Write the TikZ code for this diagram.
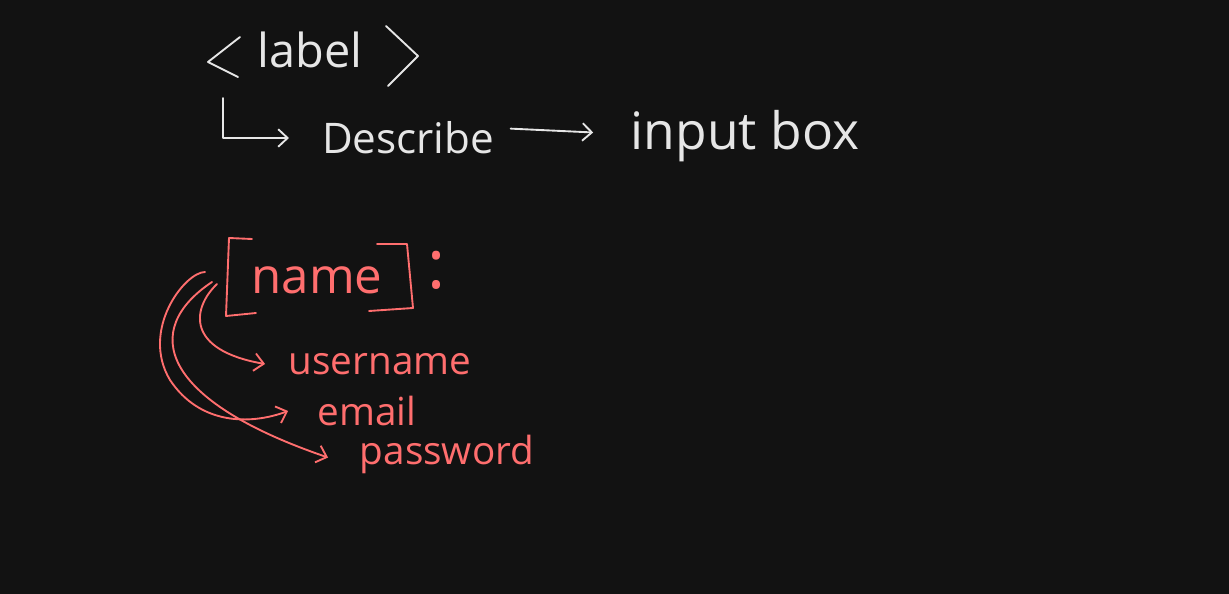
\documentclass[tikz,border=0pt]{standalone}
\usepackage{fontspec}
\setmainfont{Open Sans}
\usetikzlibrary{arrows.meta}
\definecolor{bg}{HTML}{121212}
\definecolor{chalk}{HTML}{E6E6E6}
\definecolor{salmon}{HTML}{FF6E6E}
\begin{document}
\begin{tikzpicture}[x=0.03cm,y=-0.03cm,
  wtext/.style={text=chalk,inner sep=0pt},
  rtext/.style={text=salmon,inner sep=0pt},
  wline/.style={draw=chalk,line width=1.6pt,line cap=round,line join=round},
  rline/.style={draw=salmon,line width=1.6pt,line cap=round,line join=round},
  wtip/.style={-{Straight Barb[length=8pt,width=15pt]}},
  rtip/.style={-{Straight Barb[length=8pt,width=15pt]}}]
\path[fill=bg] (0,0) rectangle (1229,594);
\useasboundingbox (0,0) rectangle (1229,594);

% top (white) part
\node[wtext,font=\fontsize{40}{44}\selectfont] (label) at (310,50) {label};
\draw[wline] (240,37) -- (208,62) -- (238,77);
\draw[wline] (386,26) -- (418,56) -- (388,86);
\node[wtext,font=\fontsize{36}{40}\selectfont] (describe) at (408,138) {Describe};
\node[wtext,font=\fontsize{44}{48}\selectfont] (input) at (745,136) {input box};
\coordinate (elbow) at (223,98);
\draw[wline,wtip] (elbow) |- ([xshift=-28]describe.west);
\draw[wline,wtip] ([xshift=14,yshift=8]describe.east) -- ([xshift=-32,yshift=3]input.west);

% bottom (salmon) part
\node[rtext,font=\fontsize{42}{46}\selectfont] (name) at (317,280) {name};
\draw[rline] (252,239) -- (229,238) -- (226,316) -- (256,313);
\draw[rline] (377,244) -- (407,244) -- (413,308) -- (369,311);
\node[rtext,font=\fontsize{58}{60}\selectfont] (colon) at (437,270) {:};
\node[rtext,font=\fontsize{33}{36}\selectfont] (user) at (380,364) {username};
\node[rtext,font=\fontsize{33}{36}\selectfont] (email) at (367,411) {email};
\node[rtext,font=\fontsize{33}{36}\selectfont] (pass) at (447,454) {password};
\coordinate (s1) at (217,284);
\coordinate (s2) at (205,272);
\coordinate (s3) at (212,282);
\draw[rline,rtip] (s1) .. controls (192,308) and (185,350) .. ([xshift=-20]user.west);
\draw[rline,rtip] (s2) .. controls (185,272) and (140,330) .. (170,380)
   .. controls (200,425) and (250,425) .. ([xshift=-25]email.west);
\draw[rline,rtip] (s3) .. controls (140,330) and (160,400) .. ([xshift=-27,yshift=-3]pass.west);
\end{tikzpicture}
\end{document}
